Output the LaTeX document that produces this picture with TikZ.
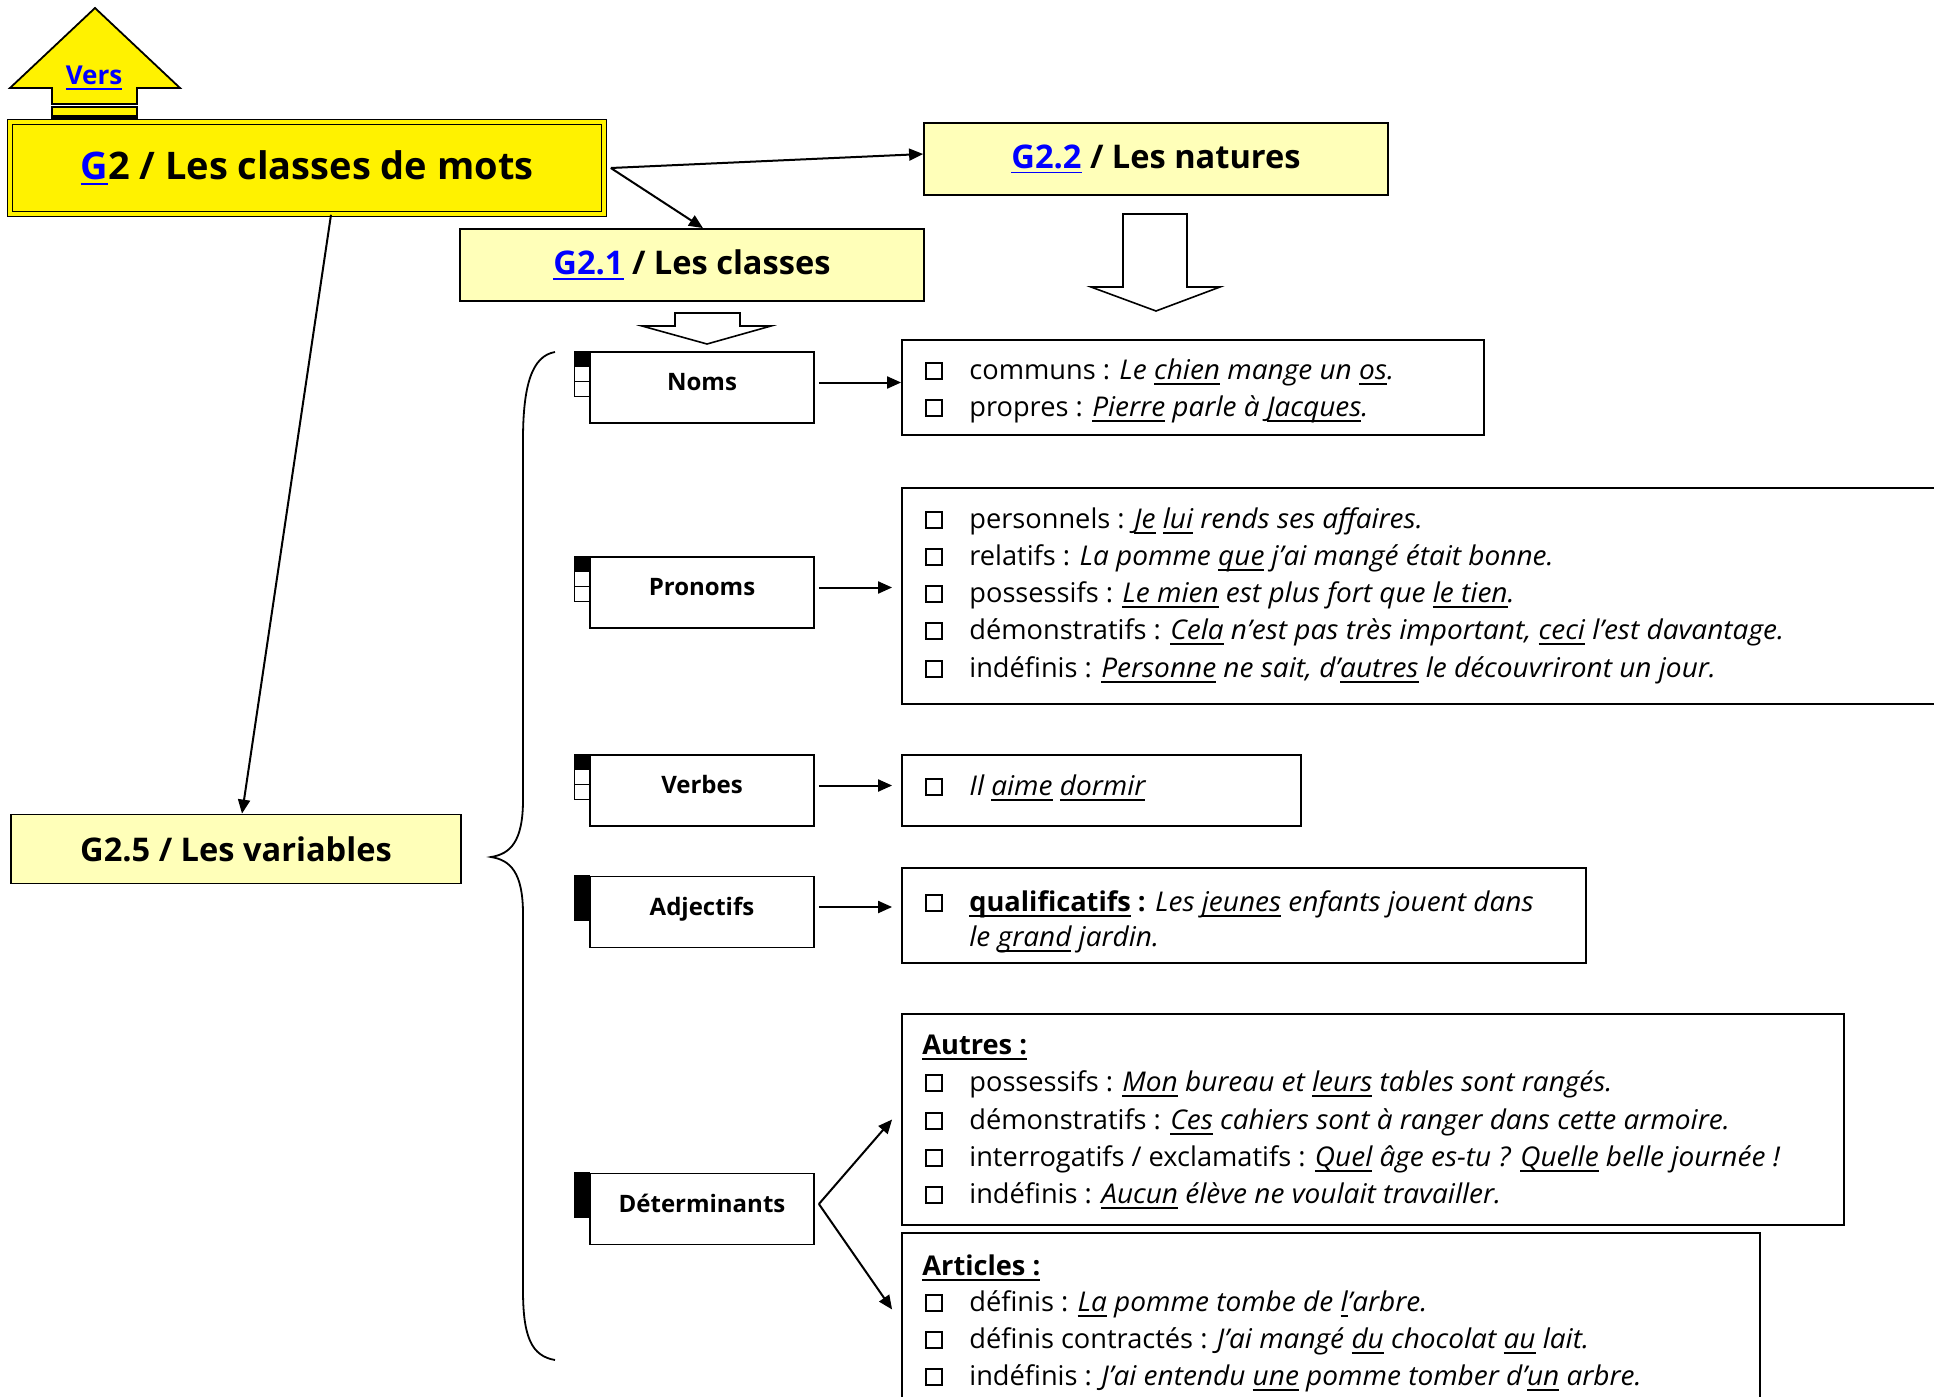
\documentclass[tikz,border=0pt]{standalone}
\usepackage{fontspec}
\setmainfont{Open Sans}[ItalicFeatures={FakeStretch=1.03}]
\usetikzlibrary{arrows.meta}
\definecolor{lyel}{RGB}{255,255,185}
\definecolor{lnk}{RGB}{0,0,255}
\newcommand{\ux}[1]{\leavevmode\setbox0\hbox{#1}\rlap{\vrule height -1.6pt depth 2.5pt width \wd0}\box0\relax}
\newcommand{\lk}[1]{\textcolor{lnk}{\ux{#1}}}
\newcommand{\cb}[1]{\draw[line width=0.6pt] (926,#1-7) rectangle (942,#1+9);}
\newcommand{\tri}[1]{%
  \filldraw[line width=0.6pt] ([xshift=-7.5pt]#1.north west) rectangle ([yshift=-7.5pt]#1.north west);
  \draw[line width=0.6pt] ([xshift=-7.5pt,yshift=-7.5pt]#1.north west) rectangle ([yshift=-15pt]#1.north west);
  \draw[line width=0.6pt] ([xshift=-7.5pt,yshift=-15pt]#1.north west) rectangle ([yshift=-22.5pt]#1.north west);}
\newcommand{\blk}[1]{\filldraw[line width=0.6pt] ([xshift=-7.5pt]#1.north west) rectangle ([yshift=-22.5pt]#1.north west);}
\tikzset{
  ttl/.style={draw, line width=0.9pt, fill=lyel, inner sep=0, font=\fontsize{16.3}{19}\selectfont\bfseries},
  cls/.style={draw, line width=0.9pt, fill=white, inner sep=0, minimum width=112pt, minimum height=35.5pt, text depth=6pt, font=\fontsize{12}{14}\selectfont\bfseries},
  tbox/.style={draw, line width=0.9pt, inner sep=0},
  txt/.style={anchor=base west, inner sep=0, yshift=-1.25pt, font=\fontsize{13.6}{16}\selectfont},
  arr/.style={line width=1pt, -{Triangle[length=7pt,width=6pt]}},
  blockarr/.style={draw, line width=0.8pt, fill=white, line join=miter},
}
\begin{document}
\begin{tikzpicture}[x=0.5pt,y=-0.5pt]
\useasboundingbox (0,0) rectangle (1934,1397);

% Vers arrow
\filldraw[fill=yellow, line width=0.9pt] (95,8) -- (180,88) -- (137,88) -- (137,104) -- (52,104) -- (52,88) -- (10,88) -- cycle;
\filldraw[fill=yellow, line width=0.9pt] (52,107) rectangle (137,116);
\filldraw[fill=yellow, line width=0.9pt] (52,118) rectangle (137,124);
\node[inner sep=0, font=\fontsize{13}{15}\selectfont\bfseries] (vers) at (94,78) {\lk{Vers}};

% title boxes
\node[draw, double=yellow, double distance=1.6pt, line width=0.8pt, fill=yellow, minimum width=297pt, minimum height=46pt, inner sep=0, font=\fontsize{19}{22}\selectfont\bfseries] (g2) at (307,168) {\lk{G}2 / Les classes de mots};
\node[ttl, minimum width=232pt, minimum height=36pt] (g22) at (1156,159) {\lk{G2.2} / Les natures};
\node[ttl, minimum width=232pt, minimum height=36pt] (g21) at (692,265) {\lk{G2.1} / Les classes};
\node[ttl, minimum width=225pt, minimum height=34.5pt] (g25) at (236,849) {G2.5 / Les variables};

\draw[arr] ([xshift=3pt]g2.east) -- ([yshift=2.5pt]g22.west);
\draw[arr] ([xshift=3pt]g2.east) -- ([xshift=5.5pt]g21.north);
\draw[arr] ([xshift=12pt]g2.south) -- ([xshift=3pt]g25.north);

% block arrows
\path[blockarr] (1123,214) -- (1187,214) -- (1187,287) -- (1220,287) -- (1156,311) -- (1091,287) -- (1123,287) -- cycle;
\path[blockarr] (675,313) -- (740,313) -- (740,326) -- (771,326) -- (707,344) -- (642,326) -- (675,326) -- cycle;

% brace
\draw[line width=0.9pt] (555,352) .. controls (532,356) and (523,385) .. (523,440) -- (523,800) .. controls (523,842) and (510,854) .. (491,857) .. controls (510,860) and (523,872) .. (523,914) -- (523,1290) .. controls (523,1338) and (532,1356) .. (555,1360);

% class boxes
\node[cls] (noms) at (702,387.5) {Noms};
\node[cls] (pron) at (702,592.5) {Pronoms};
\node[cls] (verb) at (702,790.5) {Verbes};
\node[cls] (adj) at (702,912) {Adjectifs};
\node[cls] (det) at (702,1209) {Déterminants};
\tri{noms} \tri{pron} \tri{verb} \blk{adj} \blk{det}

% text boxes
\node[tbox, minimum width=291pt, minimum height=47.5pt] (nomsT) at (1193,387.5) {};
\node[tbox, minimum width=524pt, minimum height=108pt] (pronT) at (1426,596) {};
\node[tbox, minimum width=199.5pt, minimum height=35.5pt] (verbT) at (1101.5,790.5) {};
\node[tbox, minimum width=342pt, minimum height=47.5pt] (adjT) at (1244,915.5) {};
\node[tbox, minimum width=471pt, minimum height=105.5pt] (autT) at (1373,1119.5) {};
\node[tbox, minimum width=429pt, minimum height=93.5pt] (artT) at (1331,1326.5) {};

% connectors
\draw[arr] ([shift={(2pt,2.5pt)}]noms.east) -- ([yshift=2.5pt]noms.east -| nomsT.west);
\draw[arr, shorten >=4.5pt] ([shift={(2pt,2.5pt)}]pron.east) -- ([yshift=2.5pt]pron.east -| pronT.west);
\draw[arr, shorten >=4.5pt] ([shift={(2pt,2.5pt)}]verb.east) -- ([yshift=2.5pt]verb.east -| verbT.west);
\draw[arr, shorten >=4.5pt] ([shift={(2pt,2.5pt)}]adj.east) -- ([yshift=2.5pt]adj.east -| adjT.west);
\draw[arr] ([shift={(2pt,2.5pt)}]det.east) -- ([xshift=-4.5pt]autT.west);
\draw[arr] ([shift={(2pt,2.5pt)}]det.east) -- ([shift={(-4.5pt,8.5pt)}]artT.west);

% Noms text
\cb{370} \node[txt] (n1) at (969,377) {communs : \textit{Le \ux{chien} mange un \ux{os}.}};
\cb{407} \node[txt] (n2) at (969,414) {propres : \textit{\ux{Pierre} parle à \ux{Jacques}.}};

% Pronoms text
\cb{519} \node[txt] (p1) at (969,526) {personnels : \textit{\ux{Je} \ux{lui} rends ses affaires.}};
\cb{556} \node[txt] (p2) at (969,563) {relatifs : \textit{La pomme \ux{que} j'ai mangé était bonne.}};
\cb{593} \node[txt] (p3) at (969,600) {possessifs : \textit{\ux{Le mien} est plus fort que \ux{le tien}.}};
\cb{630} \node[txt] (p4) at (969,637) {démonstratifs : \textit{\ux{Cela} n'est pas très important, \ux{ceci} l'est davantage.}};
\cb{668} \node[txt] (p5) at (969,675) {indéfinis : \textit{\ux{Personne} ne sait, d'\ux{autres} le découvriront un jour.}};

% Verbes text
\cb{786} \node[txt] (v1) at (969,793) {\textit{Il \ux{aime} \ux{dormir}}};

% Adjectifs text
\cb{902} \node[txt] (a1) at (969,909) {\textbf{\ux{qualificatifs} :} \textit{Les \ux{jeunes} enfants jouent dans}};
\node[txt] (a2) at (969,944) {\textit{le \ux{grand} jardin.}};

% Autres text
\node[txt] (d0) at (922,1052) {\textbf{\ux{Autres :}}};
\cb{1082} \node[txt] (d1) at (969,1089) {possessifs : \textit{\ux{Mon} bureau et \ux{leurs} tables sont rangés.}};
\cb{1120} \node[txt] (d2) at (969,1127) {démonstratifs : \textit{\ux{Ces} cahiers sont à ranger dans cette armoire.}};
\cb{1157} \node[txt] (d3) at (969,1164) {interrogatifs / exclamatifs : \textit{\ux{Quel} âge es-tu ? \ux{Quelle} belle journée !}};
\cb{1194} \node[txt] (d4) at (969,1201) {indéfinis : \textit{\ux{Aucun} élève ne voulait travailler.}};

% Articles text
\node[txt] (r0) at (922,1273) {\textbf{\ux{Articles :}}};
\cb{1302} \node[txt] (r1) at (969,1309) {définis : \textit{\ux{La} pomme tombe de \ux{l}'arbre.}};
\cb{1339} \node[txt] (r2) at (969,1346) {définis contractés : \textit{J'ai mangé \ux{du} chocolat \ux{au} lait.}};
\cb{1376} \node[txt] (r3) at (969,1383) {indéfinis : \textit{J'ai entendu \ux{une} pomme tomber d'\ux{un} arbre.}};
\end{tikzpicture}
\end{document}
